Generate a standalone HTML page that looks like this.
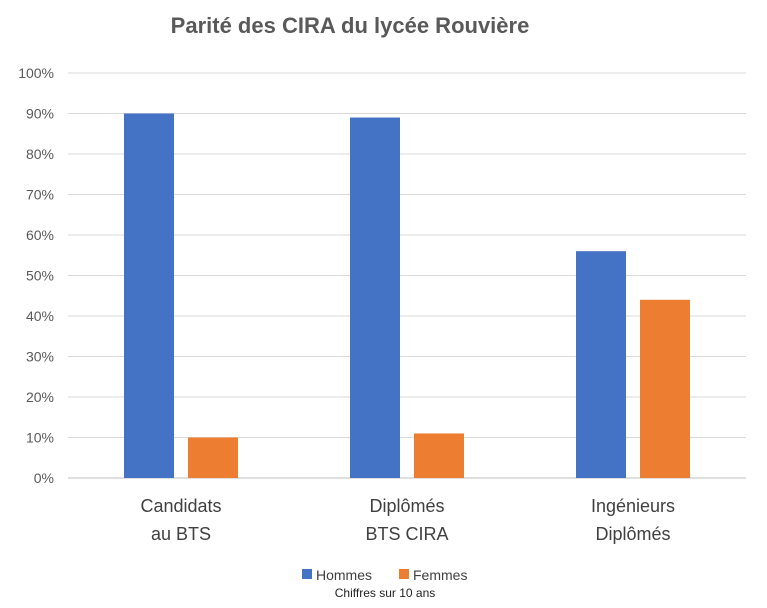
<!DOCTYPE html>
<html><head><meta charset="utf-8"><style>
body{margin:0;background:#fff;font-family:"Liberation Sans",sans-serif}
</style></head><body>
<svg id="chart" width="767" height="603" xmlns="http://www.w3.org/2000/svg">
<text x="350" y="33" text-anchor="middle" font-size="22" font-weight="bold" fill="#595959">Parité des CIRA du lycée Rouvière</text>
<g id="grid"></g><g id="bars"></g><g id="labels"></g>
<g>
<rect x="302" y="569" width="10" height="10" fill="#4472c4"/>
<text x="316" y="580" font-size="14" fill="#404040">Hommes</text>
<rect x="399" y="569" width="10" height="10" fill="#ed7d31"/>
<text x="413" y="580" font-size="14" fill="#404040">Femmes</text>
</g>
<text x="385" y="597" text-anchor="middle" font-size="12" fill="#222">Chiffres sur 10 ans</text>
</svg>
<script>
const categories=[["Candidats","au BTS"],["Diplômés","BTS CIRA"],["Ingénieurs","Diplômés"]];
const hommes=[90,89,56];
const femmes=[10,11,44];
const ticks=[0,10,20,30,40,50,60,70,80,90,100];
const NS="http://www.w3.org/2000/svg";
const x0=68,x1=746,y0=478,y1=73;
const y=v=>y0-(v/100)*(y0-y1);
const band=(x1-x0)/categories.length;
const cx=i=>x0+band*(i+0.5);
function mk(t,a,p){const e=document.createElementNS(NS,t);for(const k in a)e.setAttribute(k,a[k]);p.appendChild(e);return e;}
const g=document.getElementById('grid'),b=document.getElementById('bars'),l=document.getElementById('labels');
ticks.forEach(t=>{
 const ln=mk('line',{x1:x0,x2:x1,y1:y(t),y2:y(t),stroke:t===0?'#bfbfbf':'#d9d9d9','stroke-width':1},g);
 
 
 const tx=mk('text',{x:54,y:y(t)+5,'text-anchor':'end','font-size':14,fill:'#595959'},l);
 tx.textContent=t+'%';
 
 
});
categories.forEach((c,i)=>{
 const h=mk('rect',{x:cx(i)-57,y:y(hommes[i]),width:50,height:y0-y(hommes[i]),fill:'#4472c4'},b);
 
 
 const f=mk('rect',{x:cx(i)+7,y:y(femmes[i]),width:50,height:y0-y(femmes[i]),fill:'#ed7d31'},b);
 
 
 c.forEach((s,j)=>{
  const t=mk('text',{x:cx(i),y:512+j*28,'text-anchor':'middle','font-size':18,fill:'#404040'},l);
  t.textContent=s;
  
  
 });
});
</script>
</body></html>
